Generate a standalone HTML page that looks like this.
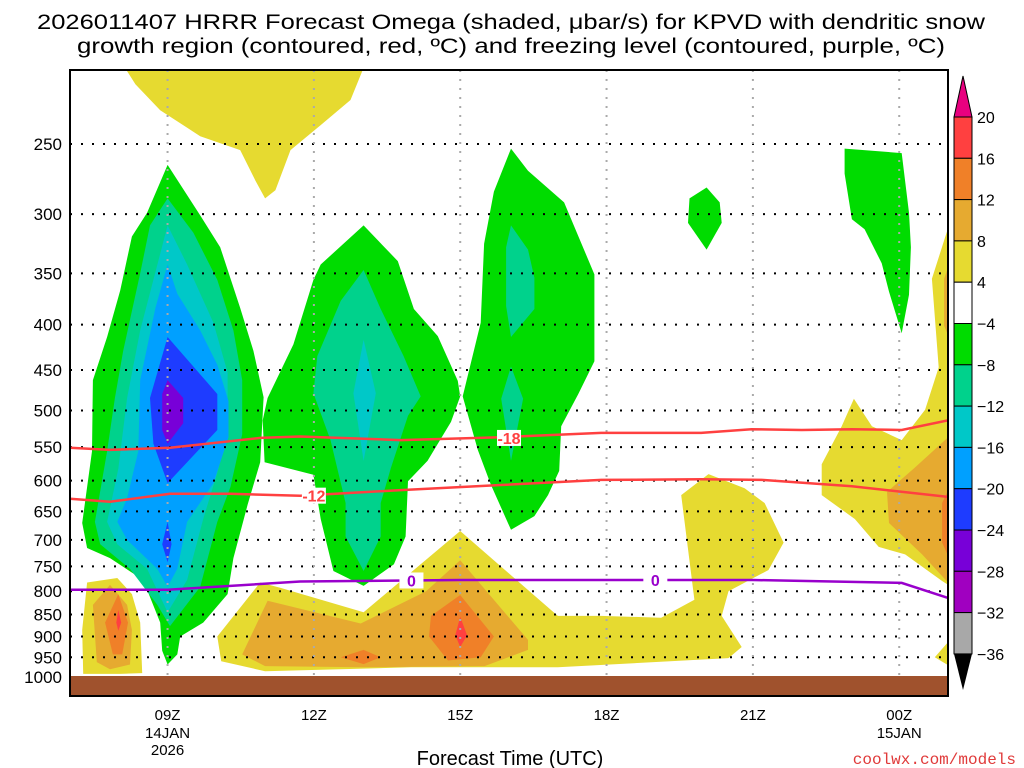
<!DOCTYPE html>
<html><head><meta charset="utf-8"><style>
html,body{margin:0;padding:0;background:#fff;}
svg{display:block;font-family:"Liberation Sans",sans-serif;}
</style></head><body>
<svg id="chart" width="1024" height="768" viewBox="0 0 1024 768" xmlns="http://www.w3.org/2000/svg">
<defs><clipPath id="plotClip"><rect x="70" y="70" width="878" height="626"/></clipPath></defs>
<text x="511" y="29" font-size="21" text-anchor="middle" textLength="948" lengthAdjust="spacingAndGlyphs">2026011407 HRRR Forecast Omega (shaded, μbar/s) for KPVD with dendritic snow</text>
<text x="511" y="53" font-size="21" text-anchor="middle" textLength="868" lengthAdjust="spacingAndGlyphs">growth region (contoured, red, ºC) and freezing level (contoured, purple, ºC)</text>
<g id="fills" clip-path="url(#plotClip)"></g>
<g id="grid"></g>
<g id="contours" clip-path="url(#plotClip)"></g>
<rect x="70" y="676" width="878" height="20" fill="#a0522d"/>
<rect x="70" y="70" width="878" height="626" fill="none" stroke="#000" stroke-width="2"/>
<g id="axes"></g>
<g id="colorbar"></g>
<text x="510" y="765" font-size="20" text-anchor="middle">Forecast Time (UTC)</text>
<text x="1016" y="764" font-size="16" text-anchor="end" fill="#e03a3a" font-family="Liberation Mono, monospace">coolwx.com/models</text>
</svg>
<script>
// ---- axis data ----
const pressureTicks = [250,300,350,400,450,500,550,600,650,700,750,800,850,900,950,1000];
const hourTicks = [9,12,15,18,21,24];
const hourLabels = ["09Z","12Z","15Z","18Z","21Z","00Z"];
const dateLabels = [["14JAN","2026"],[],[],[],[],["15JAN"]];
const colorLevels = [20,16,12,8,4,-4,-8,-12,-16,-20,-24,-28,-32,-36];
const colorBoxes = ["#ff4040","#f08028","#e6aa30","#e6da30","#ffffff","#00dc00","#00d28c","#00c8c8","#00a0ff","#1e3cff","#7800d8","#a000c0","#a8a8a8"];

// ---- omega shading polygons [hour, hPa] ----
const yellowTop = [[8.0,200],[13.1,200],[12.75,223],[12.14,238],[11.52,254],[11.21,282],[11.0,288],[10.8,275],[10.49,254],[9.67,245],[8.85,229],[8.34,214]];
const yellowLeft = [[7.35,782],[7.97,773],[8.27,806],[8.44,868],[8.48,990],[8.03,992],[7.27,992],[7.25,885]];
const yellowBand = [[10.02,900],[10.9,782],[11.31,793],[13.02,845],[15.0,684],[17.0,853],[17.89,853],[19.12,857],[19.8,818],[19.53,623],[20.09,590],[20.83,612],[21.24,636],[21.63,705],[21.32,757],[20.5,800],[20.36,853],[20.77,925],[20.5,952],[17,975],[14.0,975],[11.0,985],[10.1,960]];
const yellowRight = [[23.07,485],[23.44,521],[24.05,540],[24.53,499],[24.81,447],[24.67,355],[25.1,299],[25.1,793],[24.88,779],[24.12,727],[23.58,713],[23.09,663],[22.41,623],[22.41,575],[22.82,521]];
const yellowRightLow = [[25.1,900],[24.73,950],[25.1,977]];
const goldLeft = [[7.82,787],[8.17,829],[8.27,885],[8.23,968],[7.82,980],[7.55,962],[7.47,829]];
const goldBand = [[10.53,943],[11.05,820],[12.96,870],[14.3,800],[15.0,738],[16.39,908],[16.39,932],[15.5,972],[13,975],[11,972]];
const goldRightTop = [[24.92,355],[25.1,333],[25.1,424],[24.92,401]];
const goldRight = [[25.1,530],[24.32,580],[23.75,618],[23.79,670],[24.47,727],[25.1,793]];
const orangeLeft = [[7.99,806],[8.19,868],[8.07,943],[7.88,943],[7.72,868]];
const orangeBand = [[14.4,853],[15.0,808],[15.69,900],[15.42,950],[14.75,958],[14.36,900]];
const orangeSmall = [[12.55,950],[13.02,932],[13.37,950],[13.02,967]];
const orangeRight = [[25.1,600],[24.88,636],[24.88,705],[25.1,750]];
const redLeft = [[7.99,840],[8.05,868],[7.99,887],[7.95,868]];
const redBand = [[15.0,855],[15.14,897],[15.0,925],[14.9,897]];

const greenLeft = [[9.0,264],[9.67,301],[10.08,327],[10.49,383],[10.76,428],[10.97,483],[10.9,572],[10.64,639],[10.35,734],[10.23,806],[9.73,868],[9.26,900],[9.2,943],[9.0,968],[8.89,934],[8.85,868],[8.5,777],[7.82,734],[7.35,715],[7.25,670],[7.45,556],[7.47,462],[7.76,413],[8.03,366],[8.27,318],[8.58,299]];
const greenMid = [[13.02,309],[13.72,339],[14.05,384],[14.54,412],[14.95,463],[15.0,482],[14.81,515],[14.33,570],[13.93,601],[13.88,694],[13.64,746],[13.02,789],[12.4,759],[12.14,663],[11.99,591],[10.99,572],[10.95,513],[11.05,484],[11.58,421],[11.99,356],[12.14,342]];
const greenRightMid = [[16.04,253],[16.39,268],[17.13,291],[17.75,351],[17.75,440],[17.42,479],[17.07,521],[17.03,585],[16.8,623],[16.52,658],[16.04,682],[15.63,607],[15.36,554],[15.05,482],[15.42,398],[15.49,324],[15.69,283]];
const greenBlob20 = [[20.05,280],[20.32,291],[20.36,307],[20.05,329],[19.67,307],[19.7,288]];
const greenRight = [[22.88,253],[24.05,256],[24.2,299],[24.24,327],[24.2,370],[24.05,409],[23.79,367],[23.64,341],[23.29,312],[23.03,304],[22.88,270]];
const tealLeft = [[9.0,288],[9.53,315],[10.02,356],[10.35,406],[10.53,462],[10.53,532],[10.29,610],[10.02,668],[9.67,791],[9.05,876],[8.79,829],[8.23,755],[7.62,708],[7.51,668],[7.76,556],[7.92,484],[8.09,428],[8.44,350],[8.64,309]];
const tealMid = [[13.02,347],[13.37,384],[13.84,434],[14.19,482],[13.93,507],[13.58,580],[13.37,636],[13.37,694],[13.02,759],[12.65,694],[12.65,636],[12.34,540],[11.99,478],[12.07,434],[12.55,376]];
const tealUpper = [[16.04,309],[16.39,329],[16.52,354],[16.52,384],[16.04,413],[15.94,381],[15.94,327]];
const tealLower = [[16.04,446],[16.29,485],[16.04,570],[15.84,485]];
const cyanLeft = [[9.0,309],[9.4,342],[9.94,398],[10.23,453],[10.23,532],[10.02,588],[9.73,663],[9.4,777],[9.0,845],[8.58,755],[7.97,708],[7.76,668],[7.99,582],[8.17,484],[8.44,406]];
const cyanMid = [[13.02,416],[13.27,478],[13.02,570],[12.81,478]];
const lblueLeft = [[9.0,342],[9.2,369],[9.67,406],[10.02,444],[10.25,488],[10.25,536],[9.94,604],[9.4,668],[9.2,755],[9.0,791],[8.79,755],[8.17,700],[7.97,668],[8.17,628],[8.4,556],[8.44,462],[8.75,383]];
const dblueLeft = [[9.0,413],[10.02,479],[10.02,526],[9.0,604],[8.71,545],[8.64,484]];
const dblueSmall = [[9.0,668],[9.08,708],[9.0,742],[8.89,708]];
const purpleLeft = [[9.0,462],[9.32,484],[9.32,517],[9.0,545],[8.89,526],[8.89,479]];

// ---- contour lines [hour] / [hPa] ----
const m18Hours = [7,7.82,9.05,10.9,11.72,13.78,15.83,17.89,19.94,20.97,22.0,23.03,24.05,25];
const m18Press = [551,554,551,537,535,540,536,530,530,525,526,525,526,513];
const m12Hours = [7,7.82,9.05,10.29,11.72,13.78,15.83,17.89,19.94,21.18,23.03,25];
const m12Press = [629,634,621,621,624,615,607,599,598,599,609,626];
const zeroHours = [7,9.0,11.72,15.0,17.0,19.94,21.0,24.05,25];
const zeroPress = [797,797,780,777,777,777,777,783,814];

const NS='http://www.w3.org/2000/svg';
const x0=70, x1=948, h0=7, h1=25;
function xs(h){return x0+(h-h0)*(x1-x0)/(h1-h0);}
function ys(p){return 677-384.5*Math.log(1000/p);}
function mk(tag,attrs,parent){const e=document.createElementNS(NS,tag);for(const k in attrs)e.setAttribute(k,attrs[k]);parent.appendChild(e);return e;}
function pts(arr){return arr.map(d=>xs(d[0]).toFixed(1)+','+ys(d[1]).toFixed(1)).join(' ');}

const fills=document.getElementById('fills');
const layers=[
 [yellowTop,'#e6da30','yellow-region-top'],[yellowLeft,'#e6da30','yellow-region-left'],[yellowBand,'#e6da30','yellow-region-low'],[yellowRight,'#e6da30','yellow-region-right'],[yellowRightLow,'#e6da30','yellow-region-right-low'],
 [goldLeft,'#e6aa30','gold-region-left'],[goldBand,'#e6aa30','gold-region-low'],[goldRightTop,'#e6aa30','gold-region-right-top'],[goldRight,'#e6aa30','gold-region-right'],
 [orangeLeft,'#f08028','orange-region-left'],[orangeBand,'#f08028','orange-region-low'],[orangeSmall,'#f08028','orange-region-small'],[orangeRight,'#f08028','orange-region-right'],
 [redLeft,'#ff4040','red-region-left'],[redBand,'#ff4040','red-region-low'],
 [greenLeft,'#00dc00','green-region-left'],[greenMid,'#00dc00','green-region-mid'],[greenRightMid,'#00dc00','green-region-16z'],[greenBlob20,'#00dc00','green-region-20z'],[greenRight,'#00dc00','green-region-right'],
 [tealLeft,'#00d28c','teal-region-left'],[tealMid,'#00d28c','teal-region-mid'],[tealUpper,'#00d28c','teal-region-16z-upper'],[tealLower,'#00d28c','teal-region-16z-lower'],
 [cyanLeft,'#00c8c8','cyan-region-left'],[cyanMid,'#00c8c8','cyan-region-mid'],
 [lblueLeft,'#00a0ff','light-blue-region'],[dblueLeft,'#1e3cff','dark-blue-region'],[dblueSmall,'#1e3cff','dark-blue-region-small'],[purpleLeft,'#7800d8','purple-region']
];
layers.forEach(L=>{
 const e=mk('polygon',{points:pts(L[0]),fill:L[1]},fills);
 
 
});

// grid
const grid=document.getElementById('grid');
pressureTicks.forEach(p=>{
 if(p===1000)return;
 const e=mk('line',{x1:x0,x2:x1,y1:ys(p),y2:ys(p),stroke:'#000','stroke-width':2,'stroke-dasharray':'2 9'},grid);
 
 
});
hourTicks.forEach(h=>{
 const e=mk('line',{x1:xs(h),x2:xs(h),y1:70,y2:696,stroke:'#aaa','stroke-width':2,'stroke-dasharray':'2 7'},grid);
 
 
});

// contours
const cont=document.getElementById('contours');
function line(hs,ps,color,name){
 const d=hs.map((h,i)=>(i?'L':'M')+xs(h).toFixed(1)+','+ys(ps[i]).toFixed(1)).join(' ');
 const e=mk('path',{d:d,fill:'none',stroke:color,'stroke-width':2.5},cont);
 
 
}
line(m18Hours,m18Press,'#ff4040','contour-minus18');
line(m12Hours,m12Press,'#ff4040','contour-minus12');
line(zeroHours,zeroPress,'#9900cc','freezing-level-0c');
function clabel(h,p,txt,color,name){
 const bg=mk('rect',{x:xs(h)-12,y:ys(p)-8,width:24,height:16,fill:'#fff'},cont);
 
 
 const t=mk('text',{x:xs(h),y:ys(p)+6,'font-size':16,'font-weight':'bold','text-anchor':'middle',fill:color},cont);
 t.textContent=txt;
 
 
}
clabel(16.0,537,'-18','#ff4040','label-minus18');
clabel(12.0,624,'-12','#ff4040','label-minus12');
clabel(14.0,778,'0','#9900cc','label-zero-1');
clabel(19.0,777,'0','#9900cc','label-zero-2');

// axes labels
const axes=document.getElementById('axes');
pressureTicks.forEach(p=>{
 const t=mk('text',{x:62,y:ys(p)+6,'font-size':17,'text-anchor':'end'},axes);
 t.textContent=p;
 
 
});
hourTicks.forEach((h,i)=>{
 const t=mk('text',{x:xs(h),y:720,'font-size':15,'text-anchor':'middle'},axes);
 t.textContent=hourLabels[i];
 
 
 dateLabels[i].forEach((s,j)=>{
  const d=mk('text',{x:xs(h),y:738+j*17,'font-size':15,'text-anchor':'middle'},axes);
  d.textContent=s;
  
  
 });
});

// colorbar
const cb=document.getElementById('colorbar');
const cbx=954, cbw=18, cbTop=117, cbStep=41.3;
colorBoxes.forEach((c,i)=>{
 const r=mk('rect',{x:cbx,y:cbTop+i*cbStep,width:cbw,height:cbStep,fill:c,stroke:'#000','stroke-width':1},cb);
 
 
});
const tTop=mk('polygon',{points:`${cbx},${cbTop} ${cbx+cbw},${cbTop} ${cbx+cbw/2},76`,fill:'#e8007f',stroke:'#000','stroke-width':1},cb);


const yb=cbTop+colorBoxes.length*cbStep;
const tBot=mk('polygon',{points:`${cbx},${yb} ${cbx+cbw},${yb} ${cbx+cbw/2},690`,fill:'#000'},cb);


colorLevels.forEach((v,i)=>{
 const t=mk('text',{x:977,y:cbTop+i*cbStep+6,'font-size':16},cb);
 t.textContent=v<0?'\u2212'+Math.abs(v):String(v);
 
 
});
</script>
</body></html>
